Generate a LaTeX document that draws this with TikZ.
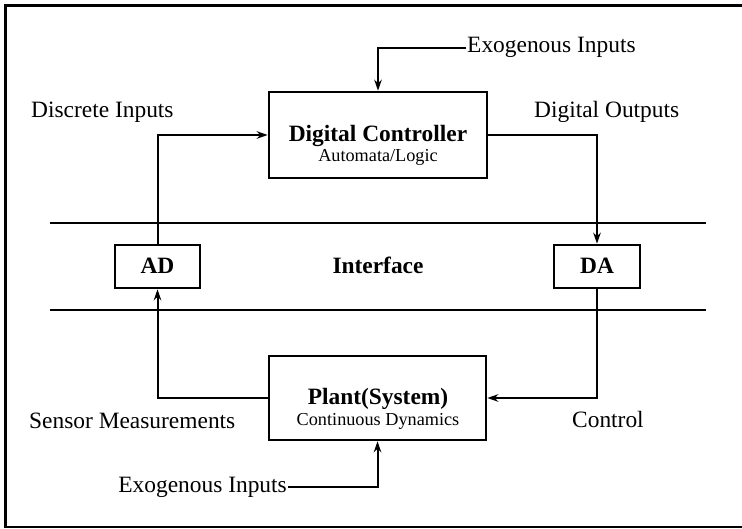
\documentclass[tikz,border=0pt]{standalone}
\usepackage{fontspec}
\setmainfont{Liberation Serif}
\usetikzlibrary{arrows.meta}

\begin{document}
\begin{tikzpicture}[x=1bp,y=-1bp,
  blockbox/.style={draw,line width=2.6bp,inner sep=0pt},
  lbl/.style={inner sep=0pt,font=\fontsize{23.5}{26}\selectfont},
  blbl/.style={inner sep=0pt,font=\fontsize{23.5}{26}\selectfont\bfseries},
  slbl/.style={inner sep=0pt,font=\fontsize{18.3}{21}\selectfont},
  wire/.style={line width=2bp},
  flow/.style={wire,-{Stealth[length=11bp,width=7.5bp,inset=3.5bp]}},
  sep/.style={line width=2.4bp}]

\useasboundingbox (0,0) rectangle (742,529);
% outer frame (its right side runs past the page edge)
\draw[line width=2.6bp] (5.5,5.5) rectangle (746,527);

% blocks
\node[blockbox,minimum width=218bp,minimum height=86bp] (ctrl)  at (378,135) {};
\node[blockbox,minimum width=217bp,minimum height=84bp] (plant) at (377.5,398) {};
\node[blockbox,minimum width=85bp,minimum height=43bp]  (ad)    at (157.5,266.5) {};
\node[blockbox,minimum width=86bp,minimum height=43bp]  (da)    at (597,266.5) {};

% block texts
\node[blbl,anchor=base] (ctrlT) at (378,142) {Digital Controller};
\node[slbl,anchor=base] (ctrlS) at (378,162) {Automata/Logic};
\node[blbl,anchor=base] (plantT) at (378,404) {Plant(System)};
\node[slbl,anchor=base] (plantS) at (378,425) {Continuous Dynamics};
\node[blbl,anchor=base] (adT) at (157.5,274) {AD};
\node[blbl,anchor=base] (daT) at (597,274) {DA};
\node[blbl,anchor=base] (iface) at (378,274) {Interface};

% interface boundary lines
\coordinate (s1a) at (50,223);  \coordinate (s1b) at (706,223);
\coordinate (s2a) at (50,310);  \coordinate (s2b) at (706,310);
\draw[sep] (s1a) -- (s1b);
\draw[sep] (s2a) -- (s2b);

% signal labels
\node[lbl,anchor=base west,inner xsep=1bp] (exoT) at (466,53) {Exogenous Inputs};
\node[lbl,anchor=base east,inner xsep=1bp] (exoB) at (288,492) {Exogenous Inputs};
\node[lbl,anchor=base west] (din)  at (31,118) {Discrete Inputs};
\node[lbl,anchor=base west] (dout) at (534,118) {Digital Outputs};
\node[lbl,anchor=base west] (sens) at (29,428) {Sensor Measurements};
\node[lbl,anchor=base west] (ctl)  at (572,427) {Control};

% signal flow
\draw[flow] (exoT.west) -| (ctrl.north);
\draw[flow] (ad.north) |- (ctrl.west);
\draw[flow] (ctrl.east) -| (da.north);
\draw[flow] (da.south) |- (plant.east);
\draw[flow] (plant.west) -| (ad.south);
\draw[flow] (exoB.east) -| (plant.south);
\end{tikzpicture}
\end{document}
